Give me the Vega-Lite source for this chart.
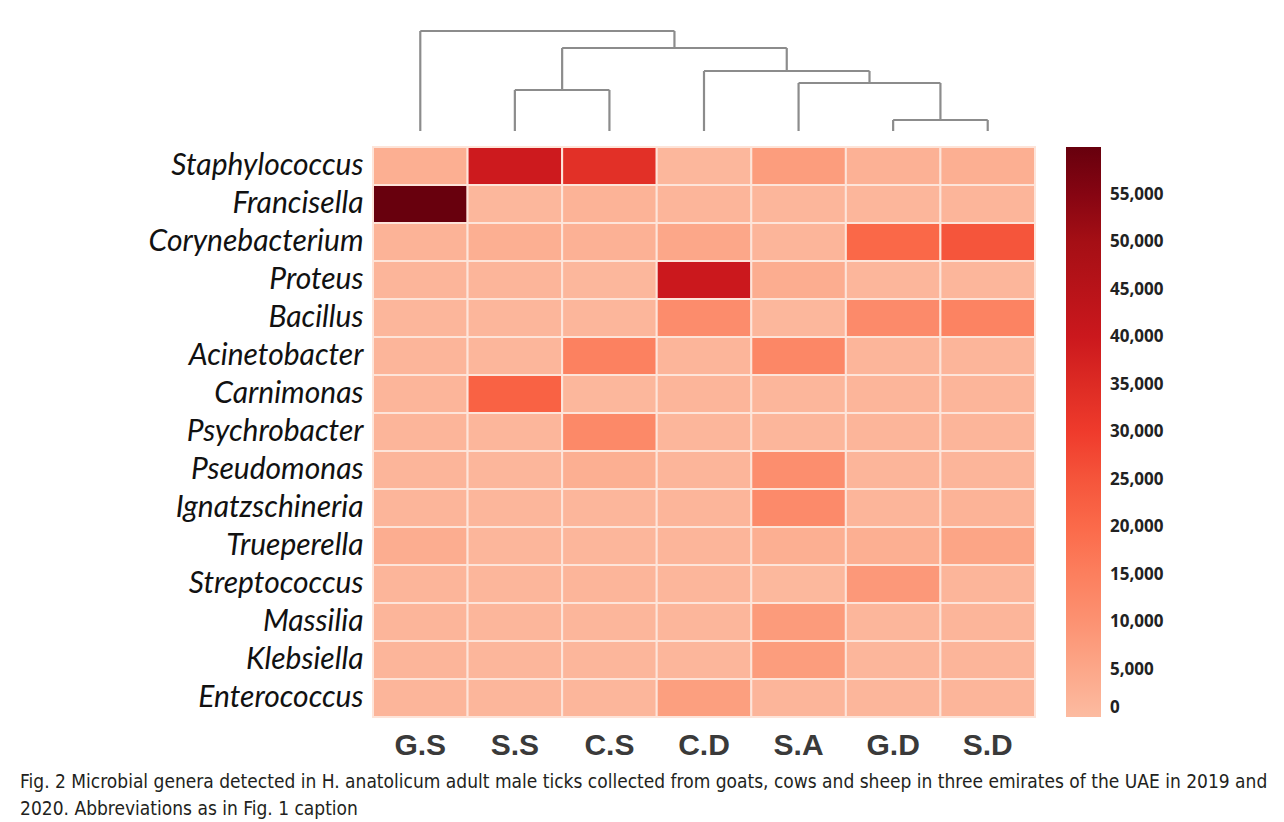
{
  "$schema": "https://vega.github.io/schema/vega-lite/v6.json",
  "background": "white",
  "padding": {"left": 20, "top": 29, "right": 10, "bottom": 8},
  "title": {
    "text": ["Fig. 2  Microbial genera detected in H. anatolicum adult male ticks collected from goats, cows and sheep in three emirates of the UAE in 2019 and", "2020. Abbreviations as in Fig. 1 caption"],
    "orient": "bottom", "anchor": "start", "dx": -128, "offset": 13,
    "font": "DejaVu Sans Condensed, sans-serif", "fontSize": 19, "fontWeight": "normal", "color": "#231f20", "lineHeight": 27
  },
  "spacing": 16,
  "bounds": "flush",
  "resolve": {"legend": {"color": "independent"}},
  "config": {"view": {"stroke": null}},
  "vconcat": [
    {
      "width": 662,
      "height": 100,
      "data": {"values": [
        {"x1": 0.5, "x2": 0.5, "h1": 0, "h2": 100},
        {"x1": 1.5, "x2": 1.5, "h1": 0, "h2": 41},
        {"x1": 2.5, "x2": 2.5, "h1": 0, "h2": 41},
        {"x1": 3.5, "x2": 3.5, "h1": 0, "h2": 60},
        {"x1": 4.5, "x2": 4.5, "h1": 0, "h2": 48},
        {"x1": 5.5, "x2": 5.5, "h1": 0, "h2": 11},
        {"x1": 6.5, "x2": 6.5, "h1": 0, "h2": 11},
        {"x1": 6.0, "x2": 6.0, "h1": 11, "h2": 48},
        {"x1": 5.25, "x2": 5.25, "h1": 48, "h2": 60},
        {"x1": 4.375, "x2": 4.375, "h1": 60, "h2": 83},
        {"x1": 2.0, "x2": 2.0, "h1": 41, "h2": 83},
        {"x1": 3.1875, "x2": 3.1875, "h1": 83, "h2": 100},
        {"x1": 5.5, "x2": 6.5, "h1": 11, "h2": 11},
        {"x1": 4.5, "x2": 6.0, "h1": 48, "h2": 48},
        {"x1": 3.5, "x2": 5.25, "h1": 60, "h2": 60},
        {"x1": 1.5, "x2": 2.5, "h1": 41, "h2": 41},
        {"x1": 2.0, "x2": 4.375, "h1": 83, "h2": 83},
        {"x1": 0.5, "x2": 3.1875, "h1": 100, "h2": 100}
      ]},
      "mark": {"type": "rule", "color": "#8c8c8c", "strokeWidth": 2.2},
      "encoding": {
        "x": {"field": "x1", "type": "quantitative", "scale": {"domain": [0, 7], "nice": false, "zero": false}, "axis": null},
        "x2": {"field": "x2"},
        "y": {"field": "h1", "type": "quantitative", "scale": {"domain": [0, 100], "nice": false}, "axis": null},
        "y2": {"field": "h2"}
      }
    },
    {
      "width": 662,
      "height": 570,
      "data": {"values": [
        {"genus": "Staphylococcus", "sample": "G.S", "count": 3000},
        {"genus": "Staphylococcus", "sample": "S.S", "count": 39500},
        {"genus": "Staphylococcus", "sample": "C.S", "count": 33500},
        {"genus": "Staphylococcus", "sample": "C.D", "count": 1000},
        {"genus": "Staphylococcus", "sample": "S.A", "count": 7500},
        {"genus": "Staphylococcus", "sample": "G.D", "count": 2500},
        {"genus": "Staphylococcus", "sample": "S.D", "count": 3000},
        {"genus": "Francisella", "sample": "G.S", "count": 59800},
        {"genus": "Francisella", "sample": "S.S", "count": 1000},
        {"genus": "Francisella", "sample": "C.S", "count": 2000},
        {"genus": "Francisella", "sample": "C.D", "count": 1500},
        {"genus": "Francisella", "sample": "S.A", "count": 1200},
        {"genus": "Francisella", "sample": "G.D", "count": 1200},
        {"genus": "Francisella", "sample": "S.D", "count": 1500},
        {"genus": "Corynebacterium", "sample": "G.S", "count": 2000},
        {"genus": "Corynebacterium", "sample": "S.S", "count": 3000},
        {"genus": "Corynebacterium", "sample": "C.S", "count": 2500},
        {"genus": "Corynebacterium", "sample": "C.D", "count": 5000},
        {"genus": "Corynebacterium", "sample": "S.A", "count": 1500},
        {"genus": "Corynebacterium", "sample": "G.D", "count": 20500},
        {"genus": "Corynebacterium", "sample": "S.D", "count": 25000},
        {"genus": "Proteus", "sample": "G.S", "count": 1500},
        {"genus": "Proteus", "sample": "S.S", "count": 1500},
        {"genus": "Proteus", "sample": "C.S", "count": 1000},
        {"genus": "Proteus", "sample": "C.D", "count": 40000},
        {"genus": "Proteus", "sample": "S.A", "count": 3500},
        {"genus": "Proteus", "sample": "G.D", "count": 1200},
        {"genus": "Proteus", "sample": "S.D", "count": 1200},
        {"genus": "Bacillus", "sample": "G.S", "count": 1200},
        {"genus": "Bacillus", "sample": "S.S", "count": 1200},
        {"genus": "Bacillus", "sample": "C.S", "count": 1200},
        {"genus": "Bacillus", "sample": "C.D", "count": 11500},
        {"genus": "Bacillus", "sample": "S.A", "count": 1000},
        {"genus": "Bacillus", "sample": "G.D", "count": 12000},
        {"genus": "Bacillus", "sample": "S.D", "count": 14000},
        {"genus": "Acinetobacter", "sample": "G.S", "count": 1500},
        {"genus": "Acinetobacter", "sample": "S.S", "count": 1200},
        {"genus": "Acinetobacter", "sample": "C.S", "count": 14500},
        {"genus": "Acinetobacter", "sample": "C.D", "count": 1500},
        {"genus": "Acinetobacter", "sample": "S.A", "count": 13000},
        {"genus": "Acinetobacter", "sample": "G.D", "count": 1500},
        {"genus": "Acinetobacter", "sample": "S.D", "count": 1500},
        {"genus": "Carnimonas", "sample": "G.S", "count": 1500},
        {"genus": "Carnimonas", "sample": "S.S", "count": 22000},
        {"genus": "Carnimonas", "sample": "C.S", "count": 1000},
        {"genus": "Carnimonas", "sample": "C.D", "count": 1500},
        {"genus": "Carnimonas", "sample": "S.A", "count": 1200},
        {"genus": "Carnimonas", "sample": "G.D", "count": 1500},
        {"genus": "Carnimonas", "sample": "S.D", "count": 1500},
        {"genus": "Psychrobacter", "sample": "G.S", "count": 1500},
        {"genus": "Psychrobacter", "sample": "S.S", "count": 1200},
        {"genus": "Psychrobacter", "sample": "C.S", "count": 12500},
        {"genus": "Psychrobacter", "sample": "C.D", "count": 1200},
        {"genus": "Psychrobacter", "sample": "S.A", "count": 1200},
        {"genus": "Psychrobacter", "sample": "G.D", "count": 1500},
        {"genus": "Psychrobacter", "sample": "S.D", "count": 1500},
        {"genus": "Pseudomonas", "sample": "G.S", "count": 1500},
        {"genus": "Pseudomonas", "sample": "S.S", "count": 1200},
        {"genus": "Pseudomonas", "sample": "C.S", "count": 3000},
        {"genus": "Pseudomonas", "sample": "C.D", "count": 1500},
        {"genus": "Pseudomonas", "sample": "S.A", "count": 11000},
        {"genus": "Pseudomonas", "sample": "G.D", "count": 1500},
        {"genus": "Pseudomonas", "sample": "S.D", "count": 1500},
        {"genus": "Ignatzschineria", "sample": "G.S", "count": 1500},
        {"genus": "Ignatzschineria", "sample": "S.S", "count": 1200},
        {"genus": "Ignatzschineria", "sample": "C.S", "count": 1200},
        {"genus": "Ignatzschineria", "sample": "C.D", "count": 1500},
        {"genus": "Ignatzschineria", "sample": "S.A", "count": 12000},
        {"genus": "Ignatzschineria", "sample": "G.D", "count": 1500},
        {"genus": "Ignatzschineria", "sample": "S.D", "count": 2000},
        {"genus": "Trueperella", "sample": "G.S", "count": 3500},
        {"genus": "Trueperella", "sample": "S.S", "count": 1200},
        {"genus": "Trueperella", "sample": "C.S", "count": 1200},
        {"genus": "Trueperella", "sample": "C.D", "count": 1500},
        {"genus": "Trueperella", "sample": "S.A", "count": 3000},
        {"genus": "Trueperella", "sample": "G.D", "count": 3000},
        {"genus": "Trueperella", "sample": "S.D", "count": 5500},
        {"genus": "Streptococcus", "sample": "G.S", "count": 1500},
        {"genus": "Streptococcus", "sample": "S.S", "count": 1200},
        {"genus": "Streptococcus", "sample": "C.S", "count": 1500},
        {"genus": "Streptococcus", "sample": "C.D", "count": 1200},
        {"genus": "Streptococcus", "sample": "S.A", "count": 800},
        {"genus": "Streptococcus", "sample": "G.D", "count": 8500},
        {"genus": "Streptococcus", "sample": "S.D", "count": 1500},
        {"genus": "Massilia", "sample": "G.S", "count": 1500},
        {"genus": "Massilia", "sample": "S.S", "count": 1200},
        {"genus": "Massilia", "sample": "C.S", "count": 1200},
        {"genus": "Massilia", "sample": "C.D", "count": 1200},
        {"genus": "Massilia", "sample": "S.A", "count": 8000},
        {"genus": "Massilia", "sample": "G.D", "count": 1200},
        {"genus": "Massilia", "sample": "S.D", "count": 1500},
        {"genus": "Klebsiella", "sample": "G.S", "count": 1500},
        {"genus": "Klebsiella", "sample": "S.S", "count": 1200},
        {"genus": "Klebsiella", "sample": "C.S", "count": 1200},
        {"genus": "Klebsiella", "sample": "C.D", "count": 1200},
        {"genus": "Klebsiella", "sample": "S.A", "count": 7500},
        {"genus": "Klebsiella", "sample": "G.D", "count": 1200},
        {"genus": "Klebsiella", "sample": "S.D", "count": 1500},
        {"genus": "Enterococcus", "sample": "G.S", "count": 1500},
        {"genus": "Enterococcus", "sample": "S.S", "count": 1200},
        {"genus": "Enterococcus", "sample": "C.S", "count": 1200},
        {"genus": "Enterococcus", "sample": "C.D", "count": 7000},
        {"genus": "Enterococcus", "sample": "S.A", "count": 1500},
        {"genus": "Enterococcus", "sample": "G.D", "count": 1200},
        {"genus": "Enterococcus", "sample": "S.D", "count": 1500}
      ]},
      "mark": {"type": "rect", "stroke": "#fde4d9", "strokeWidth": 2},
      "encoding": {
        "x": {
          "field": "sample", "type": "nominal",
          "sort": ["G.S", "S.S", "C.S", "C.D", "S.A", "G.D", "S.D"],
          "scale": {"paddingInner": 0, "paddingOuter": 0},
          "axis": {"orient": "bottom", "title": null, "labelAngle": 0, "ticks": false, "domain": false,
                   "labelFont": "Liberation Sans", "labelFontSize": 30, "labelFontWeight": "bold",
                   "labelColor": "#3a3a3a", "labelPadding": 13}
        },
        "y": {
          "field": "genus", "type": "nominal",
          "sort": ["Staphylococcus", "Francisella", "Corynebacterium", "Proteus", "Bacillus", "Acinetobacter", "Carnimonas", "Psychrobacter", "Pseudomonas", "Ignatzschineria", "Trueperella", "Streptococcus", "Massilia", "Klebsiella", "Enterococcus"],
          "scale": {"paddingInner": 0, "paddingOuter": 0},
          "axis": {"title": null, "ticks": false, "domain": false, "labelFont": "Lato", "labelFontStyle": "italic",
                   "labelFontSize": 30, "labelColor": "#111111", "labelPadding": 10, "labelLimit": 400}
        },
        "color": {
          "field": "count", "type": "quantitative",
          "scale": {"domain": [0, 10000, 20000, 30000, 40000, 50000, 60000],
                    "range": ["#fcbba1", "#fc9272", "#fb6a4a", "#ef3b2c", "#cb181d", "#a50f15", "#67000d"]},
          "legend": {"title": null, "direction": "vertical", "gradientLength": 570, "gradientThickness": 35,
                     "values": [0, 5000, 10000, 15000, 20000, 25000, 30000, 35000, 40000, 45000, 50000, 55000],
                     "labelExpr": "format(datum.value, ',')", "labelFont": "Open Sans", "labelFontSize": 17, "labelFontWeight": "bold",
                     "labelColor": "#222222", "labelOffset": 9, "offset": 31, "gradientStrokeWidth": 0}
        }
      }
    }
  ]
}
